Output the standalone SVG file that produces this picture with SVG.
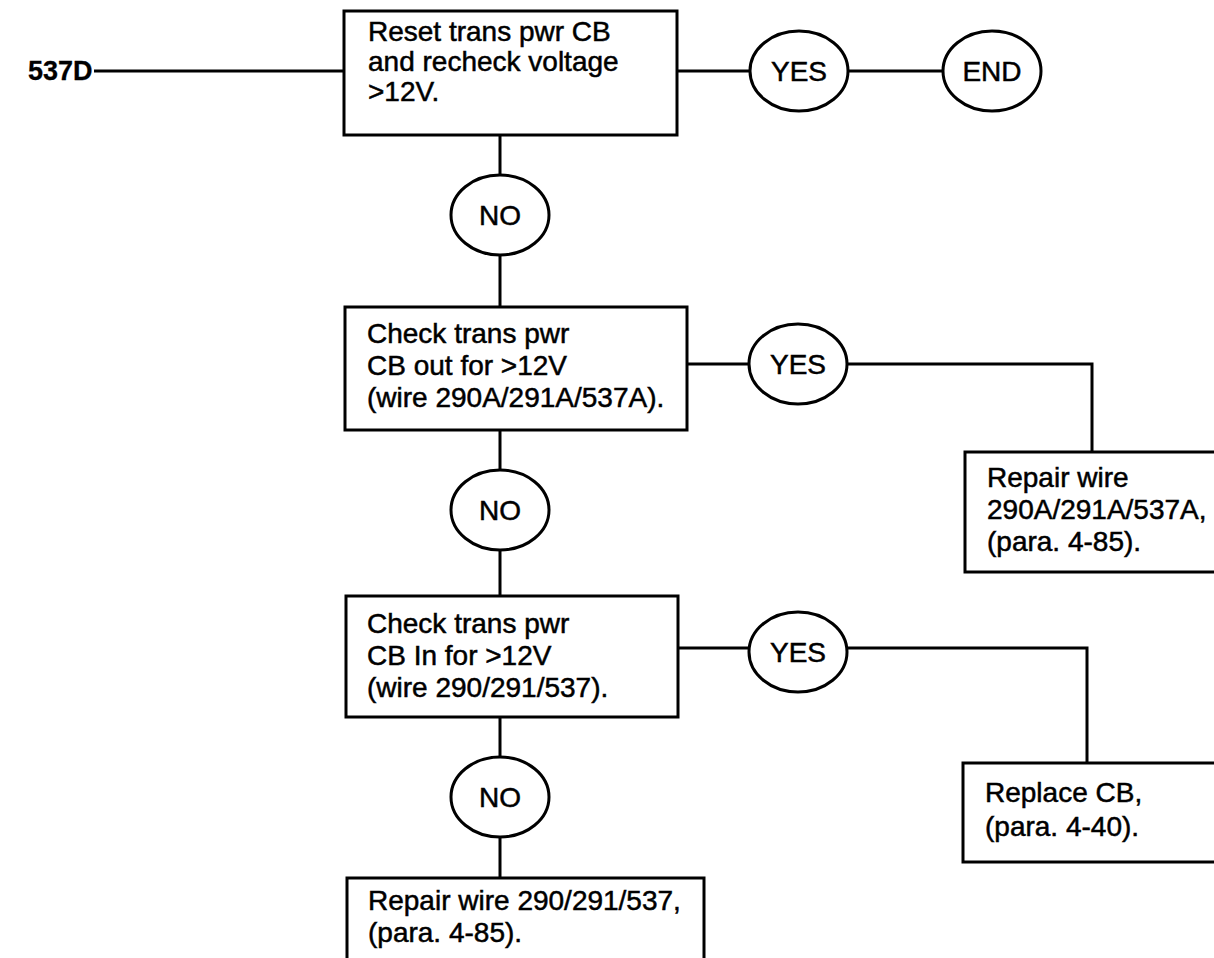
<svg xmlns="http://www.w3.org/2000/svg" width="1214" height="958" viewBox="0 0 1214 958">
<style>
.box{fill:#fff;stroke:#000;stroke-width:3}
.ell{fill:#fff;stroke:#000;stroke-width:3}
.con{fill:none;stroke:#000;stroke-width:3}
.t{font-family:"Liberation Sans",Arial,sans-serif;font-size:28px;fill:#000;stroke:#000;stroke-width:0.5}
.c{text-anchor:middle}
.b{font-weight:bold;font-size:27px;stroke-width:0.3}
</style>
<rect width="1214" height="958" fill="#fff"/>
<g id="connectors">
<polyline class="con" points="94,71 344,71"/>
<polyline class="con" points="677,71 750,71"/>
<polyline class="con" points="848,71 943,71"/>
<polyline class="con" points="500,135 500,175"/>
<polyline class="con" points="500,255 500,307"/>
<polyline class="con" points="687,364 750,364"/>
<polyline class="con" points="847,364 1092,364 1092,452"/>
<polyline class="con" points="500,430 500,470"/>
<polyline class="con" points="500,550 500,596"/>
<polyline class="con" points="678,648 750,648"/>
<polyline class="con" points="847,648 1087,648 1087,763"/>
<polyline class="con" points="500,717 500,758"/>
<polyline class="con" points="500,837 500,878"/>
</g>
<g id="start"><text class="t b" x="28" y="80">537D</text></g>
<g id="box1"><rect class="box" x="344" y="11" width="333" height="124"/>
<text class="t" x="368" y="41">Reset trans pwr CB</text>
<text class="t" x="368" y="71">and recheck voltage</text>
<text class="t" x="368" y="101">&gt;12V.</text></g>
<g id="yes1"><ellipse class="ell" cx="799" cy="71" rx="49" ry="40"/><text class="t c" x="799" y="81">YES</text></g>
<g id="end"><ellipse class="ell" cx="992" cy="71" rx="49" ry="40"/><text class="t c" x="992" y="81">END</text></g>
<g id="no1"><ellipse class="ell" cx="500" cy="215" rx="49" ry="40"/><text class="t c" x="500" y="225">NO</text></g>
<g id="box2"><rect class="box" x="345" y="307" width="342" height="123"/>
<text class="t" x="367" y="343">Check trans pwr</text>
<text class="t" x="367" y="375">CB out for &gt;12V</text>
<text class="t" x="367" y="407">(wire 290A/291A/537A).</text></g>
<g id="yes2"><ellipse class="ell" cx="798" cy="364" rx="49" ry="40"/><text class="t c" x="798" y="374">YES</text></g>
<g id="box5"><rect class="box" x="965" y="452" width="260" height="120"/>
<text class="t" x="987" y="487">Repair wire</text>
<text class="t" x="987" y="519">290A/291A/537A,</text>
<text class="t" x="987" y="551">(para. 4-85).</text></g>
<g id="no2"><ellipse class="ell" cx="500" cy="510" rx="49" ry="40"/><text class="t c" x="500" y="520">NO</text></g>
<g id="box3"><rect class="box" x="346" y="596" width="332" height="121"/>
<text class="t" x="367" y="633">Check trans pwr</text>
<text class="t" x="367" y="665">CB In for &gt;12V</text>
<text class="t" x="367" y="697">(wire 290/291/537).</text></g>
<g id="yes3"><ellipse class="ell" cx="798" cy="652" rx="49" ry="40"/><text class="t c" x="798" y="662">YES</text></g>
<g id="box6"><rect class="box" x="963" y="763" width="260" height="99"/>
<text class="t" x="985" y="802">Replace CB,</text>
<text class="t" x="985" y="836">(para. 4-40).</text></g>
<g id="no3"><ellipse class="ell" cx="500" cy="797" rx="49" ry="40"/><text class="t c" x="500" y="807">NO</text></g>
<g id="box4"><rect class="box" x="347" y="878" width="357" height="90"/>
<text class="t" x="368" y="910">Repair wire 290/291/537,</text>
<text class="t" x="368" y="942">(para. 4-85).</text></g>
</svg>
